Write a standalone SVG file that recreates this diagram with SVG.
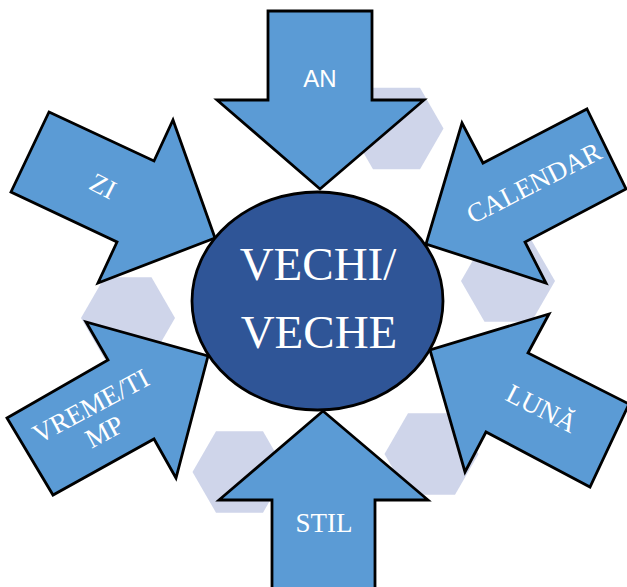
<svg xmlns="http://www.w3.org/2000/svg" xmlns:xlink="http://www.w3.org/1999/xlink" width="627" height="587" viewBox="0 0 627 587">
<style>
.hex{fill:#CFD5EA}
.arrow{fill:#5B9BD5;stroke:#000;stroke-width:2.8;stroke-linejoin:miter}
.lbl{fill:#fff;font-family:"Liberation Serif","Times New Roman",serif;font-size:27px;text-anchor:middle}
.sans{font-family:"Liberation Sans",Arial,sans-serif;font-size:24px}
.center{fill:#2F5597;stroke:#000;stroke-width:2.8}
.big{fill:#fff;font-family:"Liberation Serif","Times New Roman",serif;font-size:47px;text-anchor:middle}
</style>
<defs>
<polygon id="hexShape" points="-47,0 -23.5,-40.7 23.5,-40.7 47,0 23.5,40.7 -23.5,40.7"/>
</defs>
<rect width="627" height="587" fill="#fff"/>
<g id="decor">
<use xlink:href="#hexShape" class="hex" x="396.5" y="128.5"/>
<use xlink:href="#hexShape" class="hex" x="508" y="281"/>
<use xlink:href="#hexShape" class="hex" x="128" y="318"/>
<use xlink:href="#hexShape" class="hex" x="239.5" y="472"/>
<use xlink:href="#hexShape" class="hex" x="431.5" y="454"/>
</g>
<g id="connectors"></g>
<g id="node-an">
<polygon class="arrow" points="268,11 372,11 372,100 424,100 320,189 217,100 268,100"/>
<text class="lbl sans" x="320" y="87">AN</text>
</g>
<g id="node-stil">
<polygon class="arrow" points="272,592 272,500 219,500 323,411 428,500 375,500 375,592"/>
<text class="lbl" x="324" y="532">STIL</text>
</g>
<g id="node-zi">
<polygon class="arrow" points="49,112 154,161 173,120 215,238 98,283 117,242 11,192"/>
<text class="lbl" transform="translate(103,186) rotate(27)" x="0" y="9">ZI</text>
</g>
<g id="node-calendar">
<polygon class="arrow" points="587,109 626,189 525,242 546,283 426,244 462,123 483,163"/>
<text class="lbl" transform="translate(538,191) rotate(-27)" x="0" y="0">CALENDAR</text>
</g>
<g id="node-vreme">
<polygon class="arrow" points="7,418 108,360 86,322 208,356 176,478 154,439 53,495"/>
<text class="lbl" transform="translate(95,414) rotate(-28)"><tspan x="0" y="0">VREME/TI</tspan><tspan x="0" y="29">MP</tspan></text>
</g>
<g id="node-luna">
<polygon class="arrow" points="629,404 590,487 486,432 465,472 430,350 549,314 528,353"/>
<text class="lbl" transform="translate(537.5,416.5) rotate(27)" x="0" y="0">LUNĂ</text>
</g>
<g id="node-center">
<ellipse class="center" cx="317.5" cy="301" rx="125.5" ry="109"/>
<text class="big" x="318" y="280">VECHI/</text>
<text class="big" x="319" y="348">VECHE</text>
</g>
</svg>
